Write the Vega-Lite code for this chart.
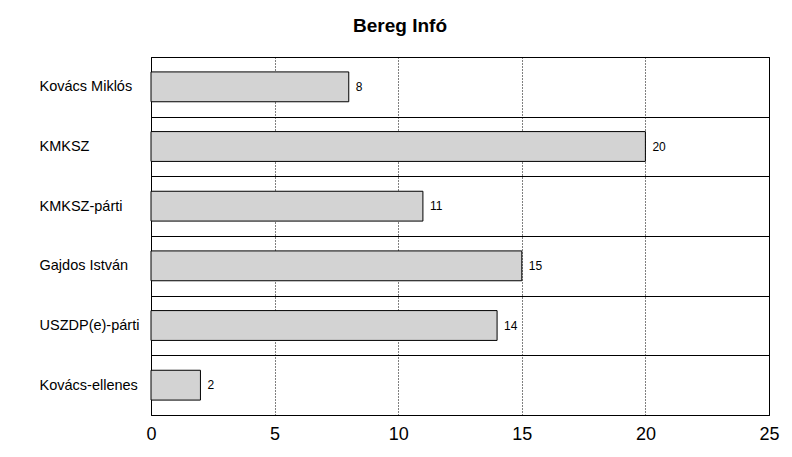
{
  "$schema": "https://vega.github.io/schema/vega-lite/v6.json",
  "autosize": "none",
  "width": 618,
  "height": 358,
  "padding": {"left": 151, "top": 57, "right": 23, "bottom": 42},
  "background": "white",
  "title": {
    "text": "Bereg Infó",
    "font": "Liberation Sans",
    "fontSize": 19,
    "fontWeight": "bold",
    "color": "black",
    "anchor": "middle",
    "baseline": "alphabetic",
    "offset": 24,
    "dx": -60,
    "dy": 26
  },
  "data": {
    "values": [
      {"name": "Kovács Miklós", "value": 8},
      {"name": "KMKSZ", "value": 20},
      {"name": "KMKSZ-párti", "value": 11},
      {"name": "Gajdos István", "value": 15},
      {"name": "USZDP(e)-párti", "value": 14},
      {"name": "Kovács-ellenes", "value": 2}
    ]
  },
  "encoding": {
    "y": {
      "field": "name",
      "type": "nominal",
      "sort": null,
      "title": null,
      "scale": {"paddingInner": 0, "paddingOuter": 0},
      "axis": {
        "labelAlign": "left",
        "labelPadding": 112,
        "labelFont": "Liberation Sans",
        "labelFontSize": 14.5,
        "labelColor": "black",
        "ticks": false,
        "domain": false,
        "grid": true,
        "tickBand": "extent",
        "gridColor": "black",
        "gridOpacity": 1,
        "gridWidth": 1
      }
    },
    "x": {
      "field": "value",
      "type": "quantitative",
      "title": null,
      "scale": {"domain": [0, 25], "nice": false},
      "axis": {
        "values": [0, 5, 10, 15, 20, 25],
        "labelFont": "Liberation Sans",
        "labelFontSize": 18,
        "labelColor": "black",
        "labelPadding": 10,
        "labelFlush": false,
        "ticks": false,
        "domain": false,
        "grid": true,
        "gridColor": "black",
        "gridOpacity": 1,
        "gridDash": [1, 2],
        "gridWidth": 1
      }
    }
  },
  "layer": [
    {
      "mark": {"type": "bar", "height": {"band": 0.5}, "fill": "#d3d3d3", "stroke": "black", "strokeWidth": 1}
    },
    {
      "mark": {"type": "text", "align": "left", "baseline": "middle", "dx": 7, "font": "Liberation Sans", "fontSize": 12, "color": "black"},
      "encoding": {"text": {"field": "value", "type": "quantitative"}}
    }
  ],
  "config": {
    "view": {"stroke": "black", "strokeWidth": 1}
  }
}
